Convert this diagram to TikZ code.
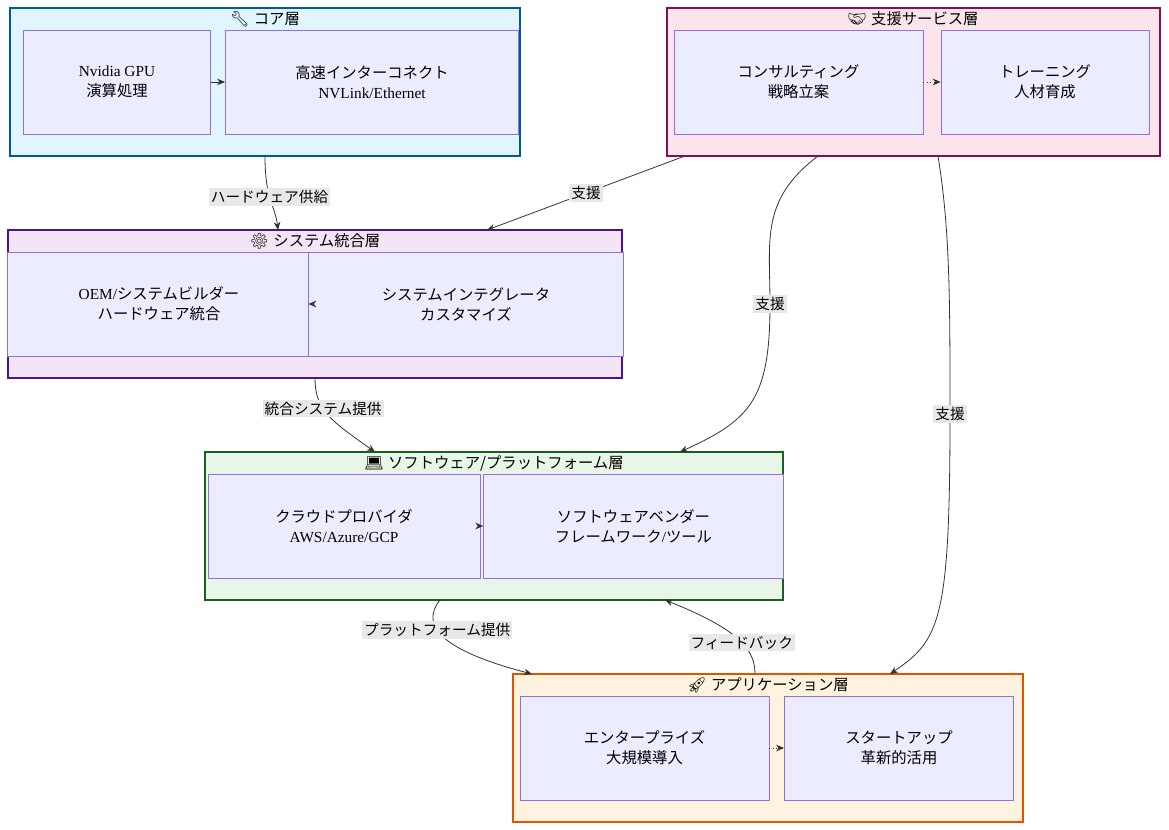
\documentclass[tikz,border=0pt]{standalone}
\usepackage{fontspec}
\setmainfont{Liberation Serif}
\newfontfamily\jp{Noto Sans CJK JP}
\newfontfamily\emo{Noto Emoji}
\newfontfamily\lsans{Liberation Sans}
\usetikzlibrary{arrows.meta}
\definecolor{nodefill}{HTML}{ECECFF}
\definecolor{nodeline}{HTML}{9370DB}
\definecolor{c1}{HTML}{E1F5FE}\definecolor{b1}{HTML}{01579B}
\definecolor{c2}{HTML}{FCE4EC}\definecolor{b2}{HTML}{880E4F}
\definecolor{c3}{HTML}{F3E5F5}\definecolor{b3}{HTML}{4A148C}
\definecolor{c4}{HTML}{E8F5E9}\definecolor{b4}{HTML}{1B5E20}
\definecolor{c5}{HTML}{FFF3E0}\definecolor{b5}{HTML}{E65100}
\begin{document}
\begin{tikzpicture}[x=0.75pt,y=-0.75pt,
  nd/.style={draw=nodeline,fill=nodefill,font=\fontsize{11.5}{15}\selectfont,align=center},
  ttl/.style={font=\lsans\fontsize{11.5}{14}\selectfont,anchor=center},
  lab/.style={fill=black!9,font=\lsans\fontsize{11}{13}\selectfont,inner sep=1.5pt},
  ar/.style={draw=black!80,-{Stealth[length=6pt,width=5pt]},line width=0.6pt}]
\useasboundingbox (0,0) rectangle (1169,830);
% clusters
\draw[b1,fill=c1,line width=1.2pt] (10,8) rectangle (520,156);
\draw[b2,fill=c2,line width=1.2pt] (667,8) rectangle (1160,156);
\draw[b3,fill=c3,line width=1.2pt] (8,230) rectangle (622,378);
\draw[b4,fill=c4,line width=1.2pt] (205,452) rectangle (783,600);
\draw[b5,fill=c5,line width=1.2pt] (513,674) rectangle (1023,822);
\coordinate (core) at (265,156);
\node[ttl] (t1) at (265,19) {{\emo 🔧} {\jp コア層}};
\node[ttl] (t2) at (913,19) {{\emo 🤝} {\jp 支援サービス層}};
\node[ttl] (t3) at (315,241) {{\emo ⚙} {\jp システム統合層}};
\node[ttl] (t4) at (494,463) {{\emo 💻} {\jp ソフトウェア/プラットフォーム層}};
\node[ttl] (t5) at (768,685) {{\emo 🚀} {\jp アプリケーション層}};
% nodes
\node[nd,minimum width=140,minimum height=78] (gpu) at (117,82) {Nvidia GPU\\{\jp 演算処理}};
\node[nd,minimum width=220,minimum height=78] (ic) at (372,82) {{\jp 高速インターコネクト}\\NVLink/Ethernet};
\node[nd,minimum width=187,minimum height=78] (con) at (798.5,82) {{\jp コンサルティング}\\{\jp 戦略立案}};
\node[nd,minimum width=156,minimum height=78] (tr) at (1045,82) {{\jp トレーニング}\\{\jp 人材育成}};
\node[nd,minimum width=228,minimum height=78] (oem) at (159,304) {OEM/{\jp システムビルダー}\\{\jp ハードウェア統合}};
\node[nd,minimum width=236,minimum height=78] (si) at (466,304) {{\jp システムインテグレータ}\\{\jp カスタマイズ}};
\node[nd,minimum width=204,minimum height=78] (cp) at (344,526) {{\jp クラウドプロバイダ}\\AWS/Azure/GCP};
\node[nd,minimum width=225,minimum height=78] (sv) at (633.5,526) {{\jp ソフトウェアベンダー}\\{\jp フレームワーク}/{\jp ツール}};
\node[nd,minimum width=187,minimum height=78] (ent) at (644.5,748) {{\jp エンタープライズ}\\{\jp 大規模導入}};
\node[nd,minimum width=172,minimum height=78] (st) at (899,748) {{\jp スタートアップ}\\{\jp 革新的活用}};
\draw[ar] (gpu) -- (ic);
\draw[ar,dotted] (con) -- (tr);
\draw[ar] (oem) -- (si);
\draw[ar] (cp) -- (sv);
\draw[ar,dotted] (ent) -- (st);
% cluster anchors
\coordinate (s1) at (685,156); \coordinate (s2) at (818,156); \coordinate (s3) at (938,156);
\coordinate (y1) at (278,230); \coordinate (y2) at (487,230); \coordinate (ys) at (315,378);
\coordinate (w1) at (375,452); \coordinate (w2) at (680,452); \coordinate (wb) at (440,600); \coordinate (wf) at (665,600);
\coordinate (a1) at (532,674); \coordinate (a2) at (890,674); \coordinate (af) at (755,674);
\draw[ar] (core) .. controls (265,200) and (275,205) .. node[lab,pos=0.45]{\jp ハードウェア供給} (y1);
\draw[ar] (s1) -- node[lab]{\jp 支援} (y2);
\draw[ar] (s2) .. controls (760,200) and (770,240) .. (770,304) .. controls (770,400) and (750,420) .. (w2);
\node[lab] (l3) at (770,304) {\jp 支援};
\draw[ar] (s3) .. controls (950,230) and (950,300) .. (950,414) .. controls (950,620) and (940,640) .. (a2);
\node[lab] (l4) at (950,414) {\jp 支援};
\draw[ar] (ys) .. controls (315,410) and (330,420) .. node[lab,pos=0.4]{\jp 統合システム提供} (w1);
\draw[ar] (wb) .. controls (420,625) and (440,650) .. node[lab,pos=0.4]{\jp プラットフォーム提供} (a1);
\draw[ar] (af) .. controls (755,650) and (740,630) .. node[lab,pos=0.45]{\jp フィードバック} (wf);
\end{tikzpicture}
\end{document}
